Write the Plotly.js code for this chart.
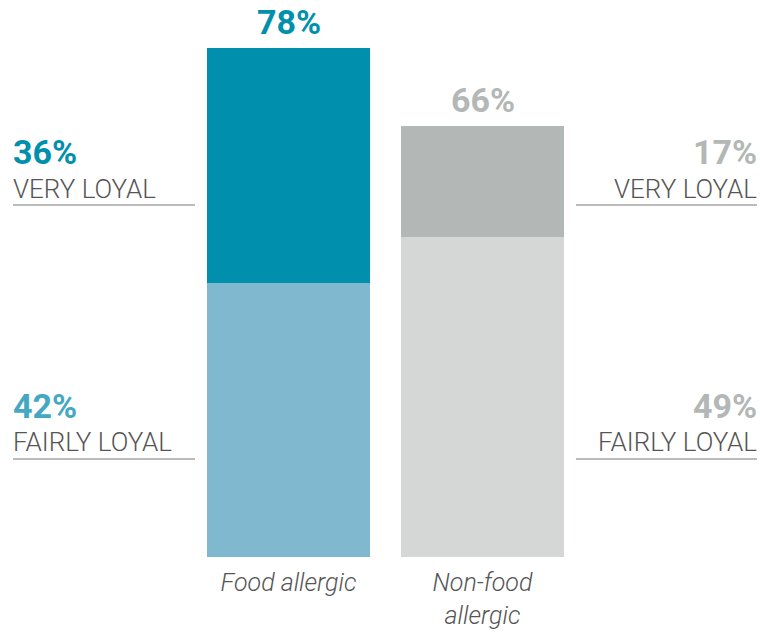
<!DOCTYPE html>
<html>
<head>
<meta charset="utf-8">
<script src="https://cdn.plot.ly/plotly-3.0.1.min.js"></script>
<style>html,body{margin:0;padding:0;background:#fff;}#chart{width:760px;height:633px;}</style>
</head>
<body>
<div id="chart"></div>
<script>
const categories = ['Food allergic', 'Non-food<br>allergic'];
const fairlyLoyal = [42, 49];
const veryLoyal = [36, 17];
const totals = [78, 66];
const segmentLabels = ['VERY LOYAL', 'FAIRLY LOYAL'];

const W = 760, H = 633, MB = 76, PH = H - MB;
const px = x => x / W;
const py = y => (PH - y) / PH;

const darkTeal = '#0090AD', lightTeal = '#80B9CF', tealText = '#45A8C3';
const darkGray = '#B3B7B6', lightGray = '#D5D7D6', grayText = '#B3B7B6';
const labelColor = '#555555';
const FONT = 'Roboto, "Open Sans", sans-serif';

const traces = [
  {type: 'bar', x: categories, y: fairlyLoyal, marker: {color: [lightTeal, lightGray]}, width: 0.84, hoverinfo: 'none'},
  {type: 'bar', x: categories, y: veryLoyal, marker: {color: [darkTeal, darkGray]}, width: 0.84, hoverinfo: 'none'}
];

const annotations = [];
categories.forEach((c, i) => {
  annotations.push({x: c, y: totals[i], xref: 'x', yref: 'y', text: '<b>' + totals[i] + '%</b>', showarrow: false,
    yanchor: 'bottom', yshift: 4, font: {family: FONT, size: 34, color: i === 0 ? darkTeal : grayText}});
});
const rows = [
  {vals: veryLoyal, label: segmentLabels[0], numY: 152, textY: 189, lineY: 205, colors: [darkTeal, grayText]},
  {vals: fairlyLoyal, label: segmentLabels[1], numY: 406, textY: 442, lineY: 459, colors: [tealText, grayText]}
];
const shapes = [];
const labFont = {family: FONT, size: 26, color: labelColor, weight: 300};
rows.forEach(r => {
  annotations.push({xref: 'paper', yref: 'paper', x: px(11), y: py(r.numY), xanchor: 'left', yanchor: 'middle', showarrow: false,
    text: '<b>' + r.vals[0] + '%</b>', font: {family: FONT, size: 34, color: r.colors[0]}});
  annotations.push({xref: 'paper', yref: 'paper', x: px(11), y: py(r.textY), xanchor: 'left', yanchor: 'middle', showarrow: false,
    text: r.label, font: labFont});
  annotations.push({xref: 'paper', yref: 'paper', x: px(759), y: py(r.numY), xanchor: 'right', yanchor: 'middle', showarrow: false,
    text: '<b>' + r.vals[1] + '%</b>', font: {family: FONT, size: 34, color: r.colors[1]}});
  annotations.push({xref: 'paper', yref: 'paper', x: px(759), y: py(r.textY), xanchor: 'right', yanchor: 'middle', showarrow: false,
    text: r.label, font: labFont});
  shapes.push({type: 'line', xref: 'paper', yref: 'paper', x0: px(13), x1: px(195), y0: py(r.lineY), y1: py(r.lineY), line: {color: '#7a7a7a', width: 1.2}});
  shapes.push({type: 'line', xref: 'paper', yref: 'paper', x0: px(576), x1: px(757), y0: py(r.lineY), y1: py(r.lineY), line: {color: '#7a7a7a', width: 1.2}});
});

const layout = {
  width: W, height: H,
  margin: {l: 0, r: 0, t: 0, b: MB, pad: 0},
  paper_bgcolor: '#fff', plot_bgcolor: '#fff',
  barmode: 'stack', showlegend: false,
  xaxis: {type: 'category', range: [-288.5 / 194, (760 - 288.5) / 194], showgrid: false, zeroline: false, showline: false,
    ticks: '', ticklabelstandoff: 8, tickfont: {family: FONT, size: 25, color: labelColor, style: 'italic', weight: 300}, fixedrange: true},
  yaxis: {range: [0, PH / 6.526], visible: false, showgrid: false, zeroline: false, fixedrange: true},
  annotations: annotations, shapes: shapes
};
Plotly.newPlot('chart', traces, layout, {displayModeBar: false, staticPlot: true});
</script>
</body>
</html>
